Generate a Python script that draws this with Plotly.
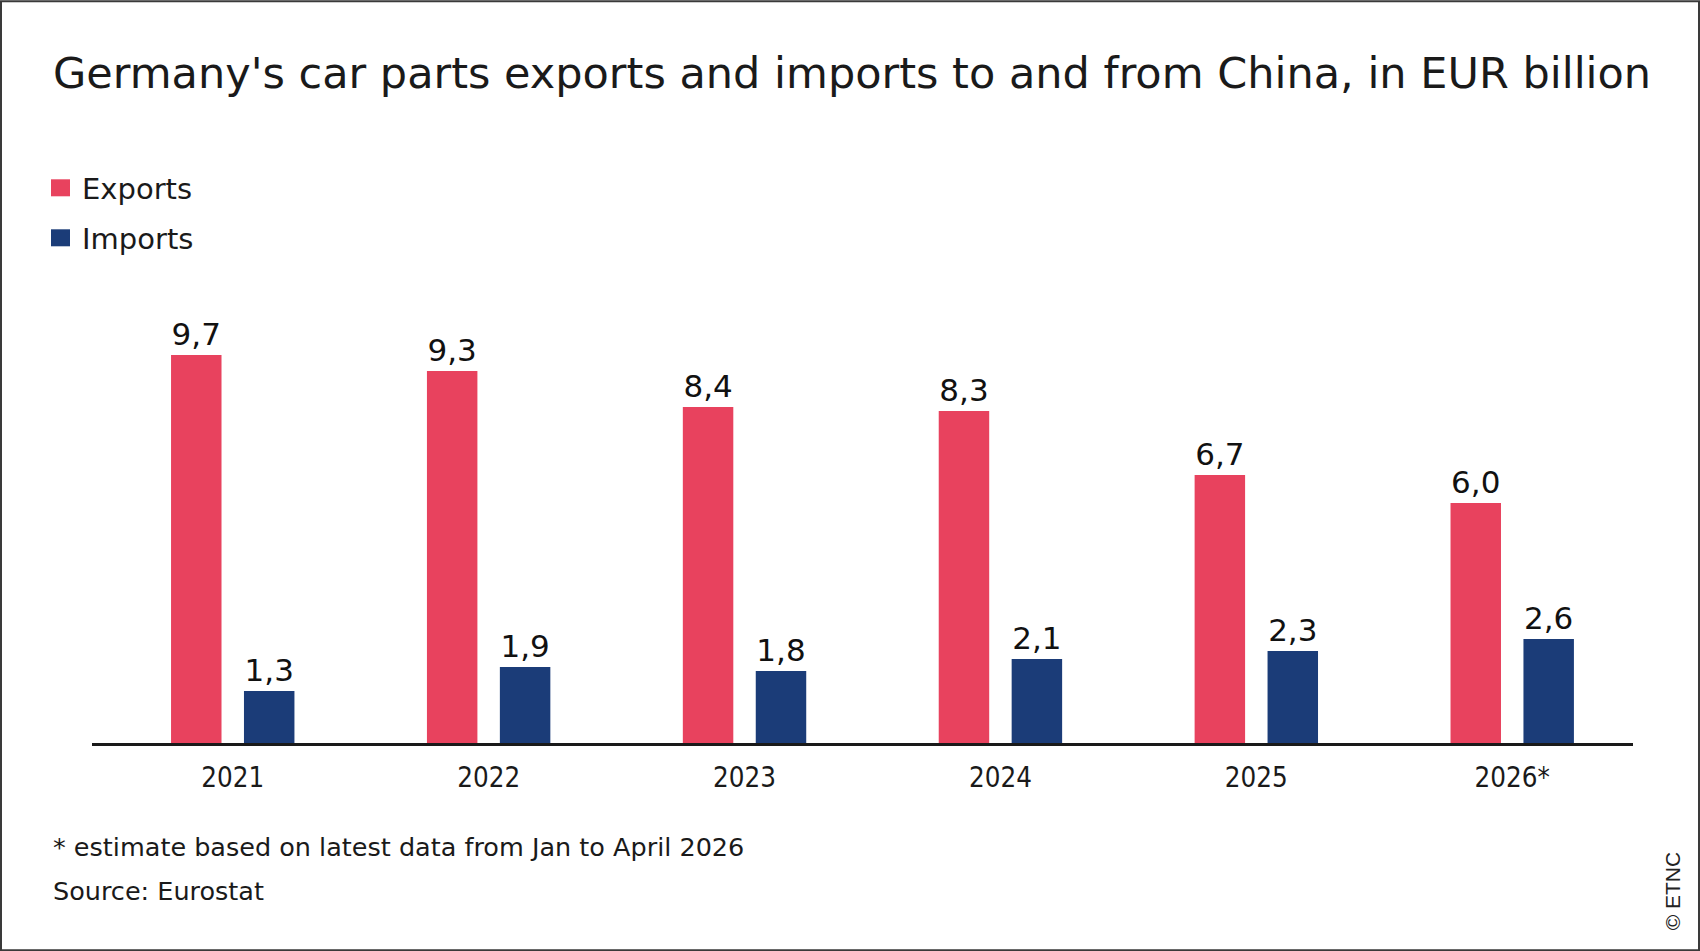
import plotly.graph_objects as go

years = ["2021", "2022", "2023", "2024", "2025", "2026*"]
exports = [9.7, 9.3, 8.4, 8.3, 6.7, 6.0]
imports = [1.3, 1.9, 1.8, 2.1, 2.3, 2.6]

title_text = "Germany's car parts exports and imports to and from China, in EUR billion"
footnote_text = "* estimate based on latest data from Jan to April 2026"
source_text = "Source: Eurostat"
credit_text = "© ETNC"

RED = "#E8425E"
NAVY = "#1B3C78"
FONT = "DejaVu Sans, Tahoma, sans-serif"
FONT_C = "DejaVu Sans Condensed, Tahoma, sans-serif"

W, H = 1700, 951
ML, MR, MT, MB = 92, 67, 262.7, 208.3
PW, PH = W - ML - MR, H - MT - MB


def px(x):
    return (x - ML) / PW


def py(y):
    return (H - MB - y) / PH


fig = go.Figure()
fig.add_trace(go.Bar(
    x=years, y=exports, name="Exports", marker=dict(color=RED, line=dict(width=0)),
    texttemplate="%{y:.1f}", textposition="outside", cliponaxis=False,
    textfont=dict(family=FONT, size=31, color="#111111"), showlegend=False,
))
fig.add_trace(go.Bar(
    x=years, y=imports, name="Imports", marker=dict(color=NAVY, line=dict(width=0)),
    texttemplate="%{y:.1f}", textposition="outside", cliponaxis=False,
    textfont=dict(family=FONT, size=31, color="#111111"), showlegend=False,
))

shapes = [
    # figure frame
    dict(type="rect", xref="paper", yref="paper", x0=px(1), x1=px(W - 1), y0=py(1), y1=py(H - 1),
         line=dict(color="#3a3a3a", width=2), fillcolor="rgba(0,0,0,0)", layer="above"),
    # legend squares
    dict(type="rect", xref="paper", yref="paper", x0=px(51), x1=px(70), y0=py(179), y1=py(196),
         line=dict(width=0), fillcolor=RED),
    dict(type="rect", xref="paper", yref="paper", x0=px(51), x1=px(70), y0=py(229), y1=py(246),
         line=dict(width=0), fillcolor=NAVY),
]

annotations = [
    dict(text=title_text, xref="paper", yref="paper", x=px(51), y=py(73), xanchor="left",
         yanchor="middle", showarrow=False, font=dict(family=FONT, size=43, color="#1a1a1a")),
    dict(text="Exports", xref="paper", yref="paper", x=px(80), y=py(189), xanchor="left",
         yanchor="middle", showarrow=False, font=dict(family=FONT, size=29, color="#1a1a1a")),
    dict(text="Imports", xref="paper", yref="paper", x=px(80), y=py(239), xanchor="left",
         yanchor="middle", showarrow=False, font=dict(family=FONT, size=29, color="#1a1a1a")),
    dict(text=footnote_text, xref="paper", yref="paper", x=px(51), y=py(847), xanchor="left",
         yanchor="middle", showarrow=False, font=dict(family=FONT, size=25.5, color="#1a1a1a")),
    dict(text=source_text, xref="paper", yref="paper", x=px(51), y=py(891), xanchor="left",
         yanchor="middle", showarrow=False, font=dict(family=FONT, size=25.5, color="#1a1a1a")),
    dict(text=credit_text, xref="paper", yref="paper", x=px(1672), y=py(891), xanchor="center",
         yanchor="middle", textangle=-90, showarrow=False,
         font=dict(family="Liberation Sans, Arial, sans-serif", size=21, color="#222222")),
]

fig.update_layout(
    width=W, height=H,
    margin=dict(l=ML, r=MR, t=MT, b=MB, pad=0),
    paper_bgcolor="white", plot_bgcolor="white",
    barmode="group", bargap=0.43, bargroupgap=0.308,
    separators=",.",
    showlegend=False,
    shapes=shapes, annotations=annotations,
    xaxis=dict(type="category", range=[-0.55, 5.472], showline=True, linecolor="#1a1a1a",
               linewidth=3, ticks="", showgrid=False, zeroline=False,
               tickfont=dict(family=FONT_C, size=27.5, color="#1a1a1a"), ticklabelstandoff=8),
    yaxis=dict(range=[0, 12], visible=False, showgrid=False, zeroline=False),
)

fig.write_html("out.html")
